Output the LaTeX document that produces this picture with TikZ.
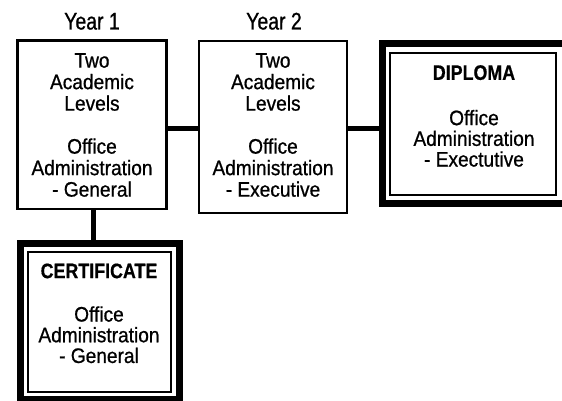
\documentclass[tikz,border=0pt]{standalone}
\usepackage{fontspec}
\setmainfont[FakeStretch=0.91, FakeBold=0.8, BoldFeatures={FakeStretch=0.85, FakeBold=0.6}]{Liberation Sans}
\newfontfamily\headfont[FakeStretch=0.81, FakeBold=0.8]{Liberation Sans}
\begin{document}
\begin{tikzpicture}[x=1pt, y=-1pt,
  yearbox/.style={draw, line width=2.2pt, inner sep=0pt},
  awardbox/.style={draw, line width=2pt, inner sep=0pt},
  awardframe/.style={draw, line width=7pt, inner sep=0pt},
  link/.style={line width=5pt},
  boxtext/.style={inner sep=0pt, anchor=north, align=center, font=\fontsize{21}{21.5}\selectfont},
  awardtext/.style={inner sep=0pt, anchor=north, align=center, font=\fontsize{21}{20.7}\selectfont},
  yeartext/.style={inner sep=0pt, anchor=base, font=\headfont\fontsize{24}{24}\selectfont}]
\useasboundingbox (0,0) rectangle (562,401);
\clip (0,0) rectangle (562,401);
\fill[white] (0,0) rectangle (562,401);

% column headings
\node[yeartext] (y1) at (92,29.5) {Year 1};
\node[yeartext] (y2) at (274,29.5) {Year 2};

% the two study years
\node[yearbox, minimum width=149pt, minimum height=168.5pt] (box1) at (92,124.75) {};
\node[yearbox, minimum width=148pt, minimum height=172pt] (box2) at (273,126.7) {};

% diploma: heavy outer frame around a thin inner box
\node[awardframe, minimum width=185.5pt, minimum height=159.5pt] (dipframe) at (475.25,123.75) {};
\node[awardbox, minimum width=166pt, minimum height=142pt] (dipbox) at (473,124) {};

% certificate: heavy outer frame around a thin inner box
\node[awardframe, minimum width=159pt, minimum height=155.5pt] (certframe) at (100,321.25) {};
\node[awardbox, minimum width=143pt, minimum height=140pt] (certbox) at (99.5,322) {};

% connectors
\draw[link] (box1.east |- 0,128.5) -- (box2.west |- 0,128.5);
\draw[link] (box2.east |- 0,128.5) -- (dipframe.west |- 0,128.5);
\draw[line width=5.5pt] (box1.south -| 93.5,0) -- (certframe.north -| 93.5,0);

% box texts
\node[boxtext] (t1) at (92,53) {Two\\Academic\\Levels\\[21.5pt]Office\\Administration\\- General};
\node[boxtext] (t2) at (273,53) {Two\\Academic\\Levels\\[21.5pt]Office\\Administration\\- Executive};
\node[awardtext] (t3) at (474,65) {\textbf{DIPLOMA}\\[24.6pt]Office\\Administration\\- Exectutive};
\node[awardtext] (t4) at (99,263.3) {\textbf{CERTIFICATE}\\[22.7pt]Office\\Administration\\- General};
\end{tikzpicture}
\end{document}
